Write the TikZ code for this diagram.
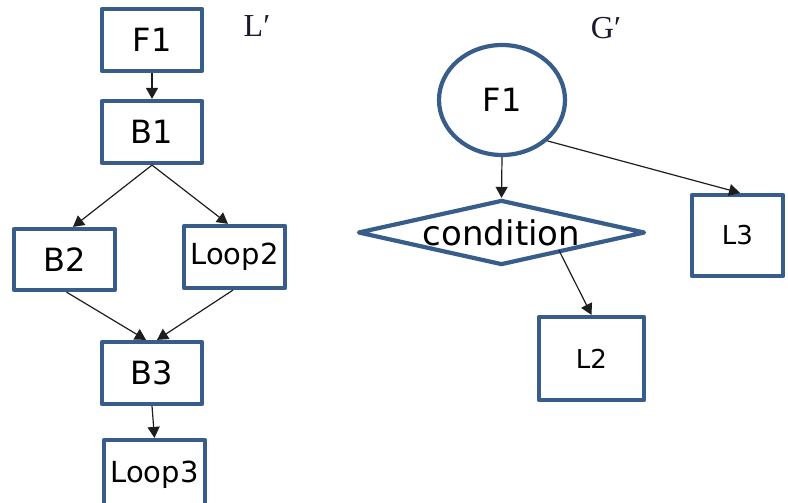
\documentclass[tikz,border=0pt]{standalone}
\usepackage{fontspec}
\newfontfamily\dv{DejaVu Sans}
\newfontfamily\ls{Liberation Serif}
\usetikzlibrary{shapes.geometric,arrows.meta}
\definecolor{boxblue}{HTML}{385D8A}
\definecolor{linegray}{HTML}{1E1E1E}
\definecolor{titlecol}{HTML}{1A1A2E}
\begin{document}
\begin{tikzpicture}[x=1pt,y=-1pt,
  shp/.style={draw=boxblue,line width=4.2pt,line join=round,inner sep=0pt,fill=white},
  blk/.style={shp,rectangle,font=\dv\fontsize{32}{38}\selectfont},
  sblk/.style={shp,rectangle,font=\dv\fontsize{29}{34}\selectfont},
  lblk/.style={shp,rectangle,font=\dv\fontsize{26}{30}\selectfont},
  conn/.style={draw=linegray,line width=1.2pt,-{Triangle[length=11pt,width=12pt]}},
  ttl/.style={font=\ls\fontsize{32}{36}\selectfont,inner sep=0pt,text=titlecol}
]
\useasboundingbox (0,0) rectangle (788,503);
\clip (0,0) rectangle (788,503);

% left graph L'
\node[blk,minimum width=100pt,minimum height=62pt] (F1) at (152,40) {F1};
\node[blk,minimum width=100pt,minimum height=62pt] (B1) at (152,132) {B1};
\node[blk,minimum width=101pt,minimum height=61pt] (B2) at (64.5,259.5) {B2};
\node[sblk,minimum width=101pt,minimum height=62pt] (Loop2) at (234.5,257) {Loop2};
\node[blk,minimum width=100pt,minimum height=62pt] (B3) at (152,373) {B3};
\node[sblk,minimum width=101pt,minimum height=70pt] (Loop3) at (154.5,475) {Loop3};
\node[ttl] (Lt) at (257,26) {L′};

\draw[conn] (F1.south) -- (B1.north);
\draw[conn] (B1.south) -- ([xshift=8.5pt]B2.north);
\draw[conn] (B1.south) -- ([xshift=-6.5pt]Loop2.north);
\draw[conn] ([xshift=2pt]B2.south) -- ([xshift=-6pt]B3.north);
\draw[conn] ([xshift=-1.5pt]Loop2.south) -- ([xshift=5pt]B3.north);
\draw[conn] (B3.south) -- (Loop3.north);

% right graph G'
\node[shp,ellipse,minimum width=126pt,minimum height=110pt,font=\dv\fontsize{32}{38}\selectfont] (G1) at (502,100) {F1};
\node[shp,diamond,aspect=4.4,minimum width=287pt,minimum height=65pt,font=\dv\fontsize{34}{40}\selectfont] (cond) at (501.5,232.5) {condition};
\node[lblk,minimum width=91pt,minimum height=81pt] (L3) at (737.5,235.5) {L3};
\node[lblk,minimum width=105pt,minimum height=83pt] (L2) at (591.5,358.5) {L2};
\node[ttl] (Gt) at (606,28) {G′};

\draw[conn] (G1.south) -- (cond.north);
\draw[conn] (G1.-42) -- ([xshift=2.5pt]L3.north);
\draw[conn] ([yshift=3pt]cond.-20) -- (L2.north);
\end{tikzpicture}
\end{document}
